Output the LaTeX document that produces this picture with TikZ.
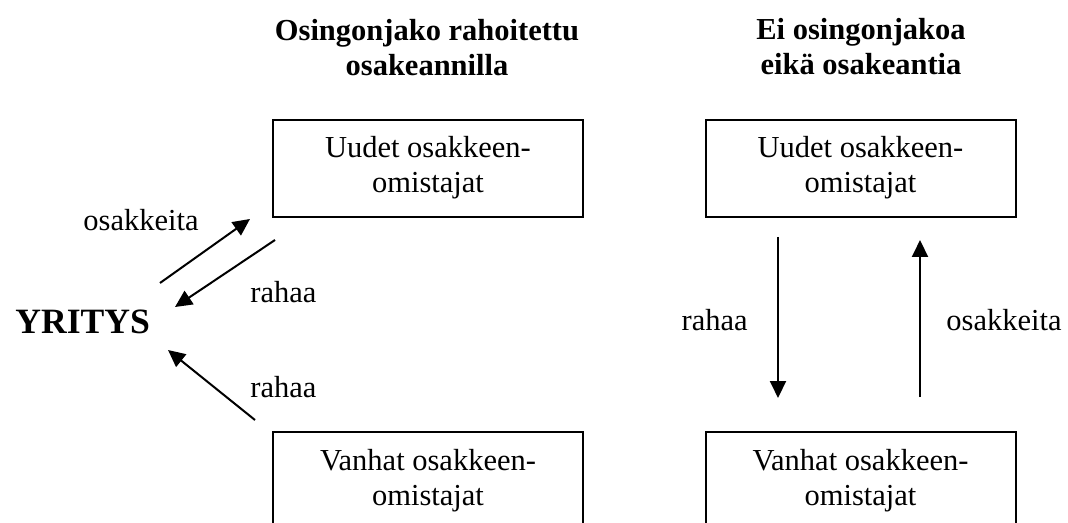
\documentclass[tikz,border=0pt]{standalone}
\usepackage{fontspec}
\setmainfont{Liberation Serif}
\usetikzlibrary{arrows.meta}

\begin{document}
\begin{tikzpicture}[x=0.5pt,y=-0.5pt]

\tikzstyle{box} = [draw, line width=1, inner sep=0, minimum width=155pt, minimum height=48.5pt,
font=\fontsize{15.25}{17.5}\selectfont]
\tikzstyle{title} = [inner sep=0, font=\fontsize{15.25}{17.5}\selectfont\bfseries]
\tikzstyle{lbl} = [inner sep=0, font=\fontsize{15.25}{17.5}\selectfont]
\tikzstyle{flow} = [line width=1, -{Triangle[length=8.5pt,width=8pt]}]

\clip (0,0) rectangle (1068,523);

% otsikot
\node [title] (t1) at (427,51) {\begin{tabular}{c} Osingonjako rahoitettu\\ osakeannilla\end{tabular}};
\node [title] (t2) at (861,50) {\begin{tabular}{c} Ei osingonjakoa\\ eikä osakeantia\end{tabular}};

% laatikot
\node [box] (uudet1) at (428,168.5) {\raisebox{-1pt}{\begin{tabular}{c} Uudet osakkeen-\\ omistajat\end{tabular}}};
\node [box] (vanhat1) at (428,480.5) {\raisebox{-1pt}{\begin{tabular}{c} Vanhat osakkeen-\\ omistajat\end{tabular}}};
\node [box] (uudet2) at (860.5,168.5) {\raisebox{-1pt}{\begin{tabular}{c} Uudet osakkeen-\\ omistajat\end{tabular}}};
\node [box] (vanhat2) at (860.5,480.5) {\raisebox{-1pt}{\begin{tabular}{c} Vanhat osakkeen-\\ omistajat\end{tabular}}};

\node [inner sep=0, anchor=base west, font=\fontsize{17.8}{20}\selectfont\bfseries] (yritys) at (15,333) {YRITYS};

% nuolet
\coordinate (o1a) at (160,283);
\coordinate (o1b) at (250,219);
\coordinate (r1a) at (275,240);
\coordinate (r1b) at (175,307);
\coordinate (r2a) at (255,420);
\coordinate (r2b) at (168,350);
\coordinate (r3a) at (778,237);
\coordinate (r3b) at (778,398);
\coordinate (o2a) at (920,397);
\coordinate (o2b) at (920,240);

\draw [flow] (o1a) -- (o1b);
\draw [flow] (r1a) -- (r1b);
\draw [flow] (r2a) -- (r2b);
\draw [flow] (r3a) -- (r3b);
\draw [flow] (o2a) -- (o2b);

\node [lbl, anchor=base] (osak1) at (141,231) {osakkeita};
\node [lbl, anchor=base west] (raha1) at (250,302) {rahaa};
\node [lbl, anchor=base west] (raha2) at (250,397) {rahaa};
\node [lbl, anchor=base east] (raha3) at (748,330) {rahaa};
\node [lbl, anchor=base west] (osak2) at (946,330) {osakkeita};

\end{tikzpicture}
\end{document}
